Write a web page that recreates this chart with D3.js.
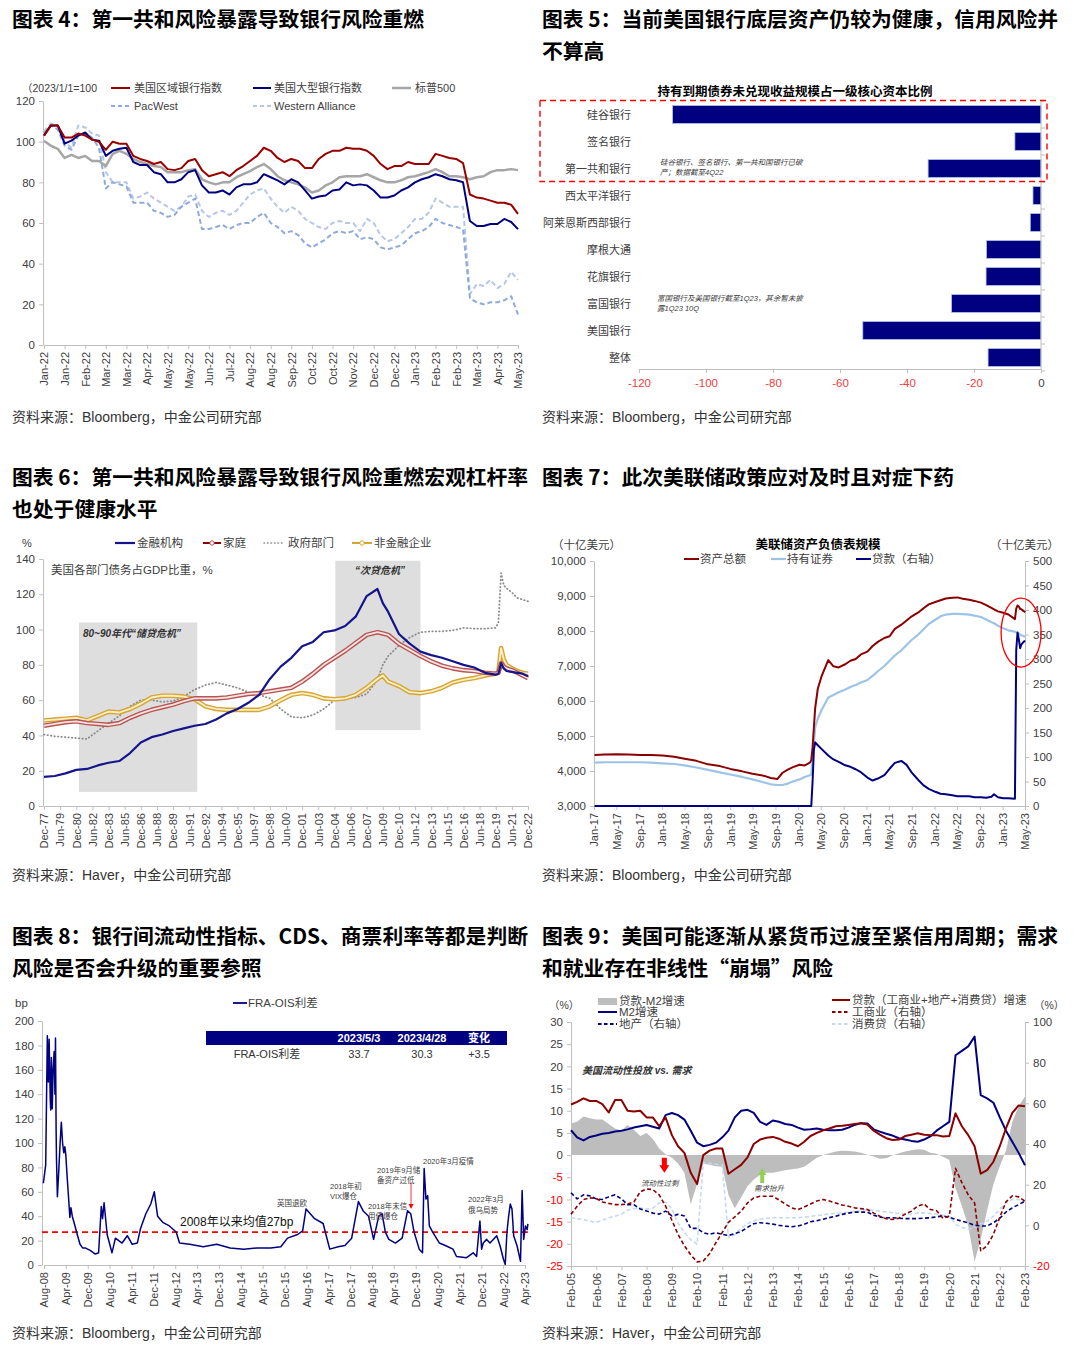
<!DOCTYPE html>
<html>
<head>
  <meta charset="utf-8">
  <title>美国银行风险图表</title>
  <script src="https://d3js.org/d3.v7.min.js"></script>
  <style>
    body { margin: 0; background: #ffffff; }
    #page { display: block; font-family: "Liberation Sans", Arial, "Noto Sans CJK SC", sans-serif; }
    .ttl { font-family: "Noto Sans CJK SC", sans-serif; font-weight: 700; font-size: 20.8px; fill: #000; }
    .src { font-size: 14px; fill: #333; }
  </style>
</head>
<body>
<svg id="page" width="1080" height="1355"></svg>
<script>

// ---------- Figure 4 data (weekly, from 2022-01-03) ----------
const fig4FirstDay = "2022-01-03";
const fig4Ticks = ["2022-01-03","2022-01-24","2022-02-14","2022-03-07","2022-03-28","2022-04-18","2022-05-09","2022-05-30",
  "2022-06-20","2022-07-11","2022-08-01","2022-08-22","2022-09-12","2022-10-03","2022-10-24","2022-11-14","2022-12-05",
  "2022-12-26","2023-01-16","2023-02-06","2023-02-27","2023-03-20","2023-04-10","2023-05-01"];
const fig4YTicks = [0, 20, 40, 60, 80, 100, 120];
const regionalBankIdx = [103,108,108,102,102, 104,103,101,100,96, 100,99,99,93,91.5, 90.5,89,90,86.5,86,
  87,90.5,91.5,86,83, 84,85,83,86,88, 90.5,93,97,95.5,92, 90,91.5,90.5,87,87, 91.5,94,95.5,95.5,97,
  96.5,96.5,95.5,93,89, 86.5,88,88,90,89, 89,89,94,93,92, 91.5,89.5,74,72.5,72, 71,70,70,69,64.5];
const largeBankIdx = [103,108,108,99,100.5, 103,104.5,101,100.5,93, 95.5,96.5,97,90,88.5, 88.5,85,84,80,80,
  81.5,85,86,78.5,75, 75,76,74,77.5,79, 79,80,84,82.5,81, 79,81.5,80,76,72, 73,73.5,76,76.5,80,
  78.5,79,78.5,76,72.5, 72.5,73.5,76,77.5,80, 81.5,82.5,84,83,81.5, 81,80,61,58.5,58.5, 59.5,59.5,62,60.5,57];
const sp500Idx = [100.5,98,96.5,92,93.5, 92,93,90.5,90.5,88, 94,95.5,94,91.5,90, 89,88,87.5,85,85,
  85,86,86.5,81.5,80, 79,80,80,82.5,84, 85.5,87.5,89,86.5,83, 81,80,79,77.5,75, 76,78.5,80,82.5,83,
  83,83,84,82.5,81, 80,80,81,82.5,83, 84,85,86.5,85,83, 83,82.5,81.5,82.5,83, 85,86,86,86.5,86];
const pacWestIdx = [104,108,106,98,96, 103,104,102,97,77, 80,79,78,70,70, 70,66,65,63,64,
  68,70,72,57,57, 58,59,57,59,60, 60,63,65,60,58, 55,56,54,50,48, 50,52,55,56,55,
  56,52,53,52,48, 47,48,49,52,55, 56,58,62,60,59, 58,57,23,21,20, 21,21,22,24,15];
const westernAllianceIdx = [105,109,108,100,97, 108,107,104,103,85, 80,80,80,72,73, 75,72,70,68,66,
  68,73,74,66,63, 65,66,64,66,70, 74,76,77,72,68, 65,68,66,62,60, 58,57,60,61,60,
  60,56,62,60,54, 51,52,55,58,62, 62,65,72,70,68, 68,68,25,30,29, 32,28,30,36,32];

// ---------- Figure 5 data ----------
const htmBanks = ["硅谷银行","签名银行","第一共和银行","西太平洋银行","阿莱恩斯西部银行","摩根大通","花旗银行","富国银行","美国银行","整体"];
const htmLossPct = [-110, -7.8, -33.7, -2.4, -3.2, -16.3, -16.4, -26.7, -53.2, -15.8];
const htmTicks = [-120, -100, -80, -60, -40, -20, 0];

// ---------- Figure 6 data (debt / GDP, %) ----------
const debtDates = ["1977-12","1978-12","1979-12","1980-12","1981-12","1982-12","1983-12","1984-12","1985-12","1986-12",
  "1987-12","1988-12","1989-12","1990-12","1991-12","1992-12","1993-12","1994-12","1995-12","1996-12",
  "1997-12","1998-12","1999-12","2000-12","2001-12","2002-12","2003-12","2004-12","2005-12","2006-12",
  "2007-12","2008-12","2009-06","2009-12","2010-12","2011-12","2012-12","2013-12","2014-12","2015-12",
  "2016-12","2017-12","2018-12","2019-12","2020-03","2020-06","2020-09","2020-12","2021-06","2021-12",
  "2022-06","2022-12"];
const financialDebt = [16.5,17,18.5,20.5,21,23,24.5,25.5,30,36,
  39,40.5,42.5,44,45.5,46.5,49,52.5,55,58.5,
  63,72,79,84,90.5,93,98.5,99.5,102,107.5,
  119,123,115,110,97.5,92,87.5,85.5,84,82,
  80,78.5,75.5,74.5,75,81,78,76.5,76,75.5,
  75,73.5];
const householdDebt = [45.5,46.5,47.5,48,47,46.5,46,47,50,52.5,
  54.5,56,57.5,59.5,61,61,61,61.5,62.5,63.5,
  64,65,66,67,70.5,75,80,84,88,92.5,
  97,98.5,97.8,97,92,88.5,85,82,79.5,78,
  77,76.5,75.5,75,75.5,81,79,78,77,75.5,
  74,72.5];
const corporateDebt = [48.5,49,49.5,50,48.5,51,53.5,53,55,58,
  61.5,62.5,62.5,62,60.5,56.5,55,54.5,54.5,54.5,
  54.5,56.5,60,63,64,63,61,60.5,61,63,
  67,72,74,70.5,68,64.5,64,65,67,70,
  71.5,72.5,74,75,76,89.5,83,80,78,76.5,
  75.5,75];
const governmentDebt = [40.5,39.5,39,38.5,38,42.5,47,51,56.5,60,
  60,59,59.5,62,66,68.5,70,68.5,67,64.5,
  63,61,55,50.5,50,51.5,55,60,61,61.5,
  63.5,71.5,80,85,91,95.5,98.5,99,99,99.5,
  101,100.5,100.5,101,104,132,125,123.5,121,118,
  117,116];
const debtTicks = ["1977-12","1979-06","1980-12","1982-06","1983-12","1985-06","1986-12","1988-06","1989-12","1991-06",
  "1992-12","1994-06","1995-12","1997-06","1998-12","2000-06","2001-12","2003-06","2004-12","2006-06",
  "2007-12","2009-06","2010-12","2012-06","2013-12","2015-06","2016-12","2018-06","2019-12","2021-06","2022-12"];
const debtYTicks = [0, 20, 40, 60, 80, 100, 120, 140];
const crisisBands = [
  { from: "1981-03", to: "1992-03", top: 104, bottom: 8, label: "80~90年代“储贷危机”" },
  { from: "2005-01", to: "2012-12", top: 139, bottom: 43, label: "“次贷危机”" }
];

// ---------- Figure 7 data (Fed balance sheet, $bn) ----------
const fedDates = ["2017-01-04","2017-03-01","2017-05-03","2017-07-05","2017-09-06","2017-11-01",
  "2018-01-03","2018-03-07","2018-05-02","2018-07-04","2018-09-05","2018-11-07",
  "2019-01-02","2019-03-06","2019-05-01","2019-07-03","2019-08-07","2019-09-11","2019-10-09","2019-11-06","2019-12-04",
  "2020-01-08","2020-02-05","2020-03-04","2020-03-11","2020-03-18","2020-03-25","2020-04-01","2020-04-15","2020-05-06",
  "2020-06-10","2020-07-08","2020-08-05","2020-09-09","2020-10-07","2020-11-04","2020-12-02",
  "2021-01-06","2021-02-03","2021-03-03","2021-04-07","2021-05-05","2021-06-02","2021-07-07","2021-08-04",
  "2021-09-01","2021-10-06","2021-11-03","2021-12-01",
  "2022-01-05","2022-02-02","2022-03-02","2022-04-06","2022-05-04","2022-06-01","2022-07-06","2022-08-03",
  "2022-09-07","2022-10-05","2022-11-02","2022-11-16","2022-12-07",
  "2023-01-04","2023-02-01","2023-03-08","2023-03-15","2023-03-22","2023-03-29","2023-04-05","2023-04-12",
  "2023-04-19","2023-04-26","2023-05-03"];
const fedTotalAssets = [4460,4470,4480,4470,4460,4460,
  4440,4410,4350,4290,4190,4140,
  4060,3990,3920,3860,3800,3770,3950,4040,4110,
  4180,4160,4240,4310,4670,5250,5800,6350,6720,
  7170,6990,6960,7050,7150,7200,7330,
  7410,7570,7690,7800,7850,8060,8180,8300,
  8420,8530,8650,8760,
  8830,8880,8930,8950,8960,8920,8890,8860,
  8810,8740,8660,8620,8560,
  8520,8470,8340,8640,8730,8700,8630,8620,
  8590,8560,8540];
const fedSecurities = [4240,4250,4250,4250,4250,4240,
  4220,4200,4160,4100,4030,3960,
  3900,3830,3760,3670,3620,3600,3600,3640,3700,
  3760,3830,3880,3900,4300,4800,5250,5500,5750,
  6100,6170,6250,6330,6400,6460,6530,
  6600,6720,6850,7000,7150,7300,7450,7600,
  7750,7900,8050,8200,
  8320,8420,8470,8490,8490,8480,8470,8440,
  8400,8330,8250,8220,8150,
  8080,8020,7980,7960,7940,7920,7900,7880,
  7860,7850,7840];
const fedLoans = [0,0,0,0,0,0,
  0,0,0,0,0,0,
  0,0,0,0,0,0,0,0,0,
  0,0,0,0,50,115,130,124,116,
  103,95,90,83,80,75,69,
  58,52,56,63,76,88,92,84,
  68,53,42,35,
  29,25,24,22,20,20,20,18,
  18,17,19,24,18,
  16,16,15,318,354,340,322,330,
  333,336,336];
const fedTicks = ["2017-01","2017-05","2017-09","2018-01","2018-05","2018-09","2019-01","2019-05","2019-09","2020-01",
  "2020-05","2020-09","2021-01","2021-05","2021-09","2022-01","2022-05","2022-09","2023-01","2023-05"];
const fedLeftTicks = [3000, 4000, 5000, 6000, 7000, 8000, 9000, 10000];
const fedRightTicks = [0, 50, 100, 150, 200, 250, 300, 350, 400, 450, 500];

// ---------- Figure 8 data (FRA-OIS, bp) ----------
const fraDates = ["2008-07-25","2008-08-20","2008-09-07","2008-09-18","2008-09-27","2008-10-10","2008-10-15","2008-10-22",
  "2008-11-01","2008-11-10","2008-11-22","2008-12-01","2008-12-07","2008-12-14","2008-12-18","2008-12-28",
  "2009-01-13","2009-01-28","2009-02-10","2009-02-24","2009-03-09","2009-03-21","2009-04-01","2009-04-16","2009-04-28",
  "2009-05-16","2009-05-28","2009-06-12","2009-07-12","2009-08-10","2009-09-06","2009-10-05","2009-11-03","2009-12-28",
  "2010-02-24","2010-04-01","2010-05-01","2010-05-15","2010-06-01","2010-07-05","2010-08-28","2010-10-05","2010-12-18",
  "2011-02-15","2011-04-10","2011-06-06","2011-07-12","2011-09-09","2011-11-03","2011-12-12",
  "2012-01-18","2012-03-15","2012-05-28","2012-08-12","2012-09-18",
  "2013-01-09","2013-06-09","2013-11-06","2014-04-04","2014-09-03","2015-02-01","2015-07-01","2015-10-21",
  "2016-01-04","2016-04-25","2016-06-20","2016-07-28","2016-11-01","2017-02-03","2017-03-10","2017-04-18",
  "2017-07-20","2017-10-04","2017-12-18","2018-03-03","2018-04-28","2018-06-24","2018-08-01","2018-08-19",
  "2018-10-15","2018-11-22","2018-12-28","2019-02-05","2019-04-19","2019-07-03","2019-09-01","2019-10-07",
  "2019-11-13","2020-01-09","2020-02-15","2020-03-04","2020-03-24","2020-04-12","2020-05-01","2020-06-07",
  "2020-08-21","2020-11-06","2021-01-19","2021-02-27","2021-06-19","2021-09-01","2021-10-09","2021-11-15",
  "2021-12-04","2021-12-22","2022-01-29","2022-03-07","2022-04-13","2022-05-21","2022-06-28","2022-08-04",
  "2022-08-24","2022-09-12","2022-10-01","2022-10-19","2022-11-07","2022-11-26","2023-01-03","2023-02-10",
  "2023-02-28","2023-03-17","2023-04-06","2023-04-25","2023-05-03"];
const fraOisSpread = [67,82,188,150,185,135,127,170,
  128,160,175,140,186,110,87,56,
  78,101,117,100,92,97,90,72,59,
  39,47,40,32,24,17,14,14,12,
  9,10,48,38,51,25,10,22,18,
  24,17,18,30,42,50,60,
  40,35,32,27,18,
  17,15,17,14,13,14,14,15,
  22,25,28,46,38,34,24,13,
  15,16,22,52,44,40,27,21,
  40,42,27,21,18,22,44.5,42,
  27,13,10,79,54,57,32,27,
  18,15.6,13,7,6,10,7,36,
  13,18,21,18,21,24,15.6,4.7,
  0.5,27,40,50,46,24,15.6,3,
  61,21,32,29,33.7];
const fraMean = 27;
const fraTicks = ["2008-08","2009-04","2009-12","2010-08","2011-04","2011-12","2012-08","2013-04","2013-12","2014-08",
  "2015-04","2015-12","2016-08","2017-04","2017-12","2018-08","2019-04","2019-12","2020-08","2021-04","2021-12","2022-08","2023-04"];
const fraYTicks = [0, 20, 40, 60, 80, 100, 120, 140, 160, 180, 200];
const fraTableHead = ["", "2023/5/3", "2023/4/28", "变化"];
const fraTableRow = ["FRA-OIS利差", "33.7", "30.3", "+3.5"];

// ---------- Figure 9 data (quarterly from 2005-02, %) ----------
const creditFirstMonth = "2005-02";
const loanMinusM2 = [7.2,7.5,8.7,8.3, 8,8,7,6, 5.5,6.8,5.7,4.3, 5,3.6,1.5,0.2, -0.6,-1.9,-4,-11,
  -6.5,-1.9,-2.2,-2.5, -2.6,-9,-12,-9.5, -7,-5.5,-4.5,-4, -4,-3.7,-3.4,-3.2, -3,-2.6,-1.6,-0.6,
  0,0.4,0.8,1, 0.9,0.8,0.5,0.1, -0.3,-0.8,-0.7,-0.1, 0.4,0.8,1.1,1.3, 1.2,0.5,0.3,-0.4,
  -1.1,-7.5,-11.5,-16, -24,-19,-12.5,-6.5, -2.5,1,7.5,11, 13.2];
const m2Growth = [5.6,4,3.3,4.1, 4.4,4.8,5,5.3, 5.5,5.8,6.2,6.5, 6.8,6.4,6,9, 9.5,9,8,5.5,
  2.8,2,2.3,2.8, 4,5.5,8.5,10, 10.2,9.5,7.5,6.8, 7.8,7.5,7,6.8, 6.2,5.7,5.8,6,
  5.7,5.6,5.6,5.7, 6.2,6.8,7.2,7.1, 5.8,5.3,4.8,4.4, 3.8,3.5,3.2,3, 3.5,4.2,5.5,6.5,
  7.5,22.5,23.5,24.5, 26.7,13.5,12.8,11.8, 8.5,5.5,3,0.5, -2.3];
const loanGrowth = [11.4,12,12.8,12.2, 12.2,11.5,9.6,12.4, 12.4,10,9.8,10, 8.5,8.5,6.5,8.5, 4.5,2,0.5,-4,
  -6.5,0,1,1.5, 1.5,-4.2,-3.2,-2.2, -0.5,2.5,3.5,3.9, 4.1,3.7,3,2.6, 2,3,4.3,5,
  5.6,6,6.5,6.6, 6.8,7,7.2,6.9, 5.5,4.6,3.8,3.4, 3.5,4.3,4.6,4.9, 4.6,4.5,4.5,4.2,
  4.3,9.4,6.5,4.5, 2,-4.2,-3.4,-1.5, 2,6,9.5,11.2, 11];
const realEstateLoans = [16,13,15,14.5, 13,12.7,14,15, 13,10.2,10.2,8, 7,6,5.5,7, 4.6,5.4,4.6,-1.5,
  -1.5,-3.6,-4.4,-3.6, -4.4,-5,-4,-3, -1,0.8,1.3,1, 0.6,0,-0.4,-0.7, -0.3,0.5,1.8,2.3,
  3,3.8,4.5,5.4, 6,6.5,6.5,6.5, 5,4,3.7,3.7, 3.5,3.3,3.3,3.3, 3.5,3.7,4.2,4.6,
  4,3,2,1.3, 0,-0.3,-0.3,1.3, 3.5,6.5,8.6,10.2, 11.9];
const ciLoans = [5.4,9.4,12.7,13.5, 13.2,11.5,10.8,10.2, 10.2,10.5,11.5,16.5, 17.9,17.6,15,9.5, 2.5,-4.5,-10,-14.5,
  -18,-17.5,-14,-8.5, -3.5,1.5,4.2,7, 11,13.5,14.3,14.3, 14.3,12.5,10.5,8.6, 7.8,9,10.5,12,
  12.7,12,11,10, 9.4,8.6,8.2,7.8, 6,4.5,3.2,2.9, 3.5,5.5,7,9.5, 10.5,7.8,7.2,3.5,
  4.5,28,21,15, 11,-12.5,-10,-4.4, 4,11.5,14.5,14, 11.9];
const consumerLoans = [3.7,3.2,2.9,2, 1.5,2.5,3.7,4.5, 5.5,7.5,8.2,8.6, 8,8.5,11,11.5, 8,1,-3.5,-7,
  -9.3,31,30.5,30, 29.5,-6,-4.5,-1.5, 0.8,2.2,3,3.4, 3.7,3.7,3.7,3.7, 3.8,4,4.4,4.8,
  5.2,5.6,5.9,6.2, 6.5,6.9,7.3,7.8, 7.3,7,6.6,6.2, 5.8,5.4,5.6,6, 6.2,5.8,5.4,5,
  4.6,0.5,-1,-2, -0.8,0.8,2.1,4.5, 8,11,12.7,12.7, 11.9];
const creditTicks = ["2005-02","2006-02","2007-02","2008-02","2009-02","2010-02","2011-02","2012-02","2013-02","2014-02",
  "2015-02","2016-02","2017-02","2018-02","2019-02","2020-02","2021-02","2022-02","2023-02"];
const creditLeftTicks = [-25, -20, -15, -10, -5, 0, 5, 10, 15, 20, 25, 30];
const creditRightTicks = [-20, 0, 20, 40, 60, 80, 100];

// ---------- shared helpers ----------
const svg = d3.select("#page");
const parseDay = d3.timeParse("%Y-%m-%d");
const parseMonth = d3.timeParse("%Y-%m");
const pd = s => (s.length > 7 ? parseDay(s) : parseMonth(s));
const monthYear = d3.timeFormat("%b-%y");
const plain = d => String(d);   // keep an ASCII hyphen for negatives, like Excel
const GRID = "#bfbfbf", INK = "#404040", NAVY = "#000080", DARKRED = "#8b0000", NEG = "#ff0000";

function heading(x, y, lines) {
  lines.forEach((t, i) => svg.append("text").attr("class", "ttl").attr("x", x).attr("y", y + i * 32).text(t));
}
function source(x, y, t) {
  svg.append("text").attr("class", "src").attr("x", x).attr("y", y).text(t);
}
function note(x, y, t, size, o = {}) {
  return svg.append("text").attr("x", x).attr("y", y)
    .attr("text-anchor", o.anchor || "start")
    .style("font-size", size + "px")
    .style("font-style", o.italic ? "italic" : null)
    .style("font-weight", o.weight || null)
    .attr("fill", o.fill || INK)
    .text(t);
}
function tidy(g, size) {
  g.attr("font-family", null).attr("font-size", null);
  g.select(".domain").attr("stroke", GRID);
  g.selectAll(".tick line").attr("stroke", GRID);
  g.selectAll(".tick text").attr("fill", INK).style("font-size", size + "px");
  return g;
}
function dateAxis(scale, y, ticks, size) {
  const g = svg.append("g").attr("transform", `translate(0,${y})`)
    .call(d3.axisBottom(scale).tickValues(ticks.map(pd)).tickFormat(monthYear).tickSize(4).tickSizeOuter(0));
  tidy(g, size);
  g.selectAll(".tick text").attr("transform", "rotate(-90)").attr("text-anchor", "end")
    .attr("x", -7).attr("y", 0).attr("dy", "0.35em");
  return g;
}
function valueAxis(scale, x, ticks, size, side, fmt) {
  const axis = (side === "right" ? d3.axisRight(scale) : d3.axisLeft(scale))
    .tickValues(ticks).tickSize(4).tickPadding(4).tickSizeOuter(0).tickFormat(fmt || plain);
  return tidy(svg.append("g").attr("transform", `translate(${x},0)`).call(axis), size);
}
function legendLine(x, y, w, color, o = {}) {
  svg.append("line").attr("x1", x).attr("x2", x + w).attr("y1", y).attr("y2", y)
    .attr("stroke", color).attr("stroke-width", o.width || 2)
    .attr("stroke-dasharray", o.dash || null).attr("stroke-linecap", o.cap || null);
}
function drawLine(dates, values, x, y, color, o = {}) {
  const line = d3.line().x((d, i) => x(dates[i])).y(d => y(d));
  return svg.append("path").datum(values).attr("fill", "none")
    .attr("stroke", color).attr("stroke-width", o.width || 2)
    .attr("stroke-dasharray", o.dash || null).attr("stroke-linejoin", "round")
    .attr("stroke-linecap", o.cap || null)
    .attr("d", line);
}

// ================= Figure 4 =================
heading(12, 27, ["图表 4：第一共和风险暴露导致银行风险重燃"]);
const f4Dates = regionalBankIdx.map((d, i) => d3.timeDay.offset(pd(fig4FirstDay), 7 * i));
const f4x = d3.scaleTime().domain([pd("2022-01-03"), pd("2023-05-01")]).range([44, 518]);
const f4y = d3.scaleLinear().domain([0, 120]).range([345, 101]);
valueAxis(f4y, 43, fig4YTicks, 11.5);
dateAxis(f4x, 345, fig4Ticks, 11);

drawLine(f4Dates, westernAllianceIdx, f4x, f4y, "#b4c7e7", { width: 2, dash: "5,3" });
drawLine(f4Dates, pacWestIdx, f4x, f4y, "#8eaadb", { width: 2, dash: "5,3" });
drawLine(f4Dates, sp500Idx, f4x, f4y, "#a6a6a6", { width: 2.5 });
drawLine(f4Dates, largeBankIdx, f4x, f4y, NAVY, { width: 2 });
drawLine(f4Dates, regionalBankIdx, f4x, f4y, "#990000", { width: 2 });

note(22, 92, "（2023/1/1=100", 10.5);
legendLine(111, 88, 19, "#990000");
note(134, 92, "美国区域银行指数", 11);
legendLine(253, 88, 18, NAVY);
note(274, 92, "美国大型银行指数", 11);
legendLine(392, 88, 19, "#a6a6a6", { width: 2.5 });
note(415, 92, "标普500", 11);
legendLine(111, 106, 19, "#8eaadb", { dash: "4,3" });
note(134, 110, "PacWest", 11);
legendLine(253, 106, 18, "#b4c7e7", { dash: "4,3" });
note(274, 110, "Western Alliance", 11);
source(12, 422, "资料来源：Bloomberg，中金公司研究部");

// ================= Figure 5 =================
heading(542, 27, ["图表 5：当前美国银行底层资产仍较为健康，信用风险并", "不算高"]);
const f5x = d3.scaleLinear().domain([-120, 0]).range([639, 1041]);
const f5y = d3.scaleBand().domain(htmBanks).range([101, 371]).paddingInner(0.33).paddingOuter(0.165);
note(795, 96, "持有到期债券未兑现收益规模占一级核心资本比例", 12.5, { anchor: "middle", weight: 700, fill: "#000" });

svg.append("g").selectAll("rect").data(htmBanks).join("rect")
  .attr("x", (d, i) => f5x(htmLossPct[i]))
  .attr("y", d => f5y(d))
  .attr("width", (d, i) => f5x(0) - f5x(htmLossPct[i]))
  .attr("height", f5y.bandwidth())
  .attr("fill", NAVY).attr("stroke", "#b4c7e7").attr("stroke-width", 0.8);

svg.append("g").selectAll("text").data(htmBanks).join("text")
  .attr("x", 631).attr("y", d => f5y(d) + f5y.bandwidth() / 2 + 4)
  .attr("text-anchor", "end").style("font-size", "11px").attr("fill", INK).text(d => d);

// value axis with red negative labels
const f5axis = svg.append("g").attr("transform", "translate(0,369)")
  .call(d3.axisBottom(f5x).tickValues(htmTicks).tickSize(4).tickPadding(6).tickSizeOuter(0).tickFormat(plain));
tidy(f5axis, 11.5);
f5axis.selectAll(".tick text").attr("fill", d => (d < 0 ? "#f03c3c" : INK));
// category axis line at zero, with ticks between bars
svg.append("line").attr("x1", f5x(0)).attr("x2", f5x(0)).attr("y1", 101).attr("y2", 369).attr("stroke", GRID);
svg.append("g").selectAll("line").data(d3.range(htmBanks.length + 1)).join("line")
  .attr("x1", f5x(0)).attr("x2", f5x(0) + 4)
  .attr("y1", i => 101 + i * f5y.step()).attr("y2", i => 101 + i * f5y.step())
  .attr("stroke", GRID);

// failed-bank highlight box
const boxTop = f5y(htmBanks[0]) - 5;
const boxBottom = f5y(htmBanks[2]) + f5y.bandwidth() + 4;
svg.append("rect").attr("x", 540).attr("y", boxTop).attr("width", 507).attr("height", boxBottom - boxTop)
  .attr("fill", "none").attr("stroke", "#ff0000").attr("stroke-width", 1.4).attr("stroke-dasharray", "6,4");
note(660, 165, "硅谷银行、签名银行、第一共和国银行已破", 7.5, { italic: true });
note(660, 175, "产；数据截至4Q22", 7.5, { italic: true });
note(657, 301, "富国银行及美国银行截至1Q23，其余暂未披", 7.5, { italic: true });
note(657, 311, "露1Q23 10Q", 7.5, { italic: true });
source(542, 422, "资料来源：Bloomberg，中金公司研究部");

// ================= Figure 6 =================
heading(12, 485, ["图表 6：第一共和风险暴露导致银行风险重燃宏观杠杆率", "也处于健康水平"]);
const f6x = d3.scaleTime().domain([pd("1977-12"), pd("2022-12")]).range([44, 528]);
const f6y = d3.scaleLinear().domain([0, 140]).range([806, 559]);
const f6Dates = debtDates.map(pd);

svg.append("g").selectAll("rect").data(crisisBands).join("rect")
  .attr("x", d => f6x(pd(d.from))).attr("y", d => f6y(d.top))
  .attr("width", d => f6x(pd(d.to)) - f6x(pd(d.from)))
  .attr("height", d => f6y(d.bottom) - f6y(d.top))
  .attr("fill", "#dedede");
note(f6x(pd(crisisBands[0].from)) + 4, 637, crisisBands[0].label, 10, { italic: true, weight: 700, fill: "#333" });
note(380, 574, crisisBands[1].label, 10, { italic: true, weight: 700, fill: "#333", anchor: "middle" });

valueAxis(f6y, 43, debtYTicks, 11.5);
dateAxis(f6x, 806, debtTicks, 11);

drawLine(f6Dates, governmentDebt, f6x, f6y, "#8c8c8c", { width: 1.8, dash: "0.5,3", cap: "round" });
drawLine(f6Dates, corporateDebt, f6x, f6y, "#d6a531", { width: 4.6 });
drawLine(f6Dates, corporateDebt, f6x, f6y, "#fbefc9", { width: 1.8 });
drawLine(f6Dates, householdDebt, f6x, f6y, "#b85450", { width: 4.6 });
drawLine(f6Dates, householdDebt, f6x, f6y, "#f8e4e3", { width: 1.8 });
drawLine(f6Dates, financialDebt, f6x, f6y, "#14148c", { width: 2.2 });

note(22, 547, "%", 11);
legendLine(115, 543, 20, "#14148c", { width: 2.2 });
note(137, 547, "金融机构", 11.5);
legendLine(203, 543, 18, "#8b0000", { width: 2 });
svg.append("circle").attr("cx", 212).attr("cy", 543).attr("r", 2.2).attr("fill", "#fff").attr("stroke", "#b85450");
note(223, 547, "家庭", 11.5);
legendLine(264, 543, 21, "#8c8c8c", { width: 1.6, dash: "0.5,3", cap: "round" });
note(288, 547, "政府部门", 11.5);
legendLine(352, 543, 20, "#d6a531", { width: 2 });
svg.append("circle").attr("cx", 362).attr("cy", 543).attr("r", 2.2).attr("fill", "#fff").attr("stroke", "#d6a531");
note(374, 547, "非金融企业", 11.5);
note(51, 574, "美国各部门债务占GDP比重，%", 11.5);
source(12, 880, "资料来源：Haver，中金公司研究部");

// ================= Figure 7 =================
heading(542, 485, ["图表 7：此次美联储政策应对及时且对症下药"]);
const f7x = d3.scaleTime().domain([pd("2017-01-01"), pd("2023-05-01")]).range([594, 1025]);
const f7yL = d3.scaleLinear().domain([3000, 10000]).range([806, 561]);
const f7yR = d3.scaleLinear().domain([0, 500]).range([806, 561]);
const f7Dates = fedDates.map(pd);

valueAxis(f7yL, 594, fedLeftTicks, 11.5, "left", d3.format(","));
valueAxis(f7yR, 1025, fedRightTicks, 11.5, "right");
dateAxis(f7x, 806, fedTicks, 11);

drawLine(f7Dates, fedSecurities, f7x, f7yL, "#9dc3e6", { width: 2.2 });
drawLine(f7Dates, fedTotalAssets, f7x, f7yL, "#8b0000", { width: 2 });
drawLine(f7Dates, fedLoans, f7x, f7yR, NAVY, { width: 2 });

svg.append("ellipse").attr("cx", f7x(pd("2023-04-10"))).attr("cy", f7yR(354)).attr("rx", 20).attr("ry", 34.5)
  .attr("fill", "none").attr("stroke", "#ff0000").attr("stroke-width", 1.3);

note(552, 549, "（十亿美元）", 11.5);
note(990, 549, "（十亿美元）", 11.5);
note(818, 549, "美联储资产负债表规模", 12.5, { anchor: "middle", weight: 700, fill: "#000" });
legendLine(684, 559, 15, "#8b0000");
note(700, 563, "资产总额", 11.5);
legendLine(771, 559, 15, "#9dc3e6", { width: 2.2 });
note(787, 563, "持有证券", 11.5);
legendLine(856, 559, 15, NAVY);
note(872, 563, "贷款（右轴）", 11.5);
source(542, 880, "资料来源：Bloomberg，中金公司研究部");

// ================= Figure 8 =================
heading(12, 944, ["图表 8：银行间流动性指标、CDS、商票利率等都是判断", "风险是否会升级的重要参照"]);
const f8x = d3.scaleTime().domain([pd("2008-08-01"), pd("2023-04-01")]).range([44, 525]);
const f8y = d3.scaleLinear().domain([0, 200]).range([1265, 1021]);
valueAxis(f8y, 42, fraYTicks, 11.5);
dateAxis(f8x, 1265, fraTicks, 11);

svg.append("line").attr("x1", 42).attr("x2", f8x(pd("2023-05-03")))
  .attr("y1", f8y(fraMean)).attr("y2", f8y(fraMean))
  .attr("stroke", "#ff0000").attr("stroke-width", 1.8).attr("stroke-dasharray", "6,4");
drawLine(fraDates.map(pd), fraOisSpread, f8x, f8y, NAVY, { width: 1.5 });

note(15, 1007, "bp", 11.5);
legendLine(233, 1003, 14, NAVY, { width: 1.8 });
note(248, 1007, "FRA-OIS利差", 11.5);

// summary table
const colX = [267, 359, 422, 479];
svg.append("rect").attr("x", 206).attr("y", 1031).attr("width", 301).attr("height", 14).attr("fill", NAVY);
svg.append("g").selectAll("text").data(fraTableHead).join("text")
  .attr("x", (d, i) => colX[i]).attr("y", 1042).attr("text-anchor", "middle")
  .style("font-size", "11px").style("font-weight", 700).attr("fill", "#fff").text(d => d);
svg.append("g").selectAll("text").data(fraTableRow).join("text")
  .attr("x", (d, i) => colX[i]).attr("y", 1058).attr("text-anchor", "middle")
  .style("font-size", "11px").attr("fill", "#333").text(d => d);

note(180, 1226, "2008年以来均值27bp", 12, { fill: "#111" });
note(277, 1206, "英国退欧", 7.5);
note(330, 1189, "2018年初", 7.5);
note(330, 1199, "VIX爆仓", 7.5);
note(368, 1209, "2018年末信", 7.5);
note(368, 1219, "用债爆仓", 7.5);
note(377, 1173, "2019年9月储", 7.5);
note(377, 1183, "备资产过低", 7.5);
note(423, 1164, "2020年3月疫情", 7.5);
note(468, 1202, "2022年3月", 7.5);
note(468, 1213, "俄乌局势", 7.5);
const arrowX = f8x(pd("2019-10-10"));
svg.append("line").attr("x1", arrowX).attr("x2", arrowX).attr("y1", f8y(67)).attr("y2", f8y(49))
  .attr("stroke", "#ff0000").attr("stroke-width", 0.8);
svg.append("path").attr("d", `M${arrowX - 2.5},${f8y(50)} L${arrowX + 2.5},${f8y(50)} L${arrowX},${f8y(46)} Z`)
  .attr("fill", "#ff0000");
source(12, 1338, "资料来源：Bloomberg，中金公司研究部");

// ================= Figure 9 =================
heading(542, 944, ["图表 9：美国可能逐渐从紧货币过渡至紧信用周期；需求", "和就业存在非线性“崩塌”风险"]);
const f9Dates = loanMinusM2.map((d, i) => d3.timeMonth.offset(pd(creditFirstMonth), 3 * i));
const f9x = d3.scaleTime().domain([pd("2005-02"), pd("2023-02")]).range([571, 1025]);
const f9yL = d3.scaleLinear().domain([-25, 30]).range([1266, 1022]);
const f9yR = d3.scaleLinear().domain([-20, 100]).range([1266, 1022]);

svg.append("path").datum(loanMinusM2)
  .attr("fill", "#bdbdbd")
  .attr("d", d3.area().x((d, i) => f9x(f9Dates[i])).y0(f9yL(0)).y1(d => f9yL(d)));

const f9left = valueAxis(f9yL, 571, creditLeftTicks, 11.5, "left");
f9left.selectAll(".tick text").attr("fill", d => (d < 0 ? NEG : INK));
const f9right = valueAxis(f9yR, 1025, creditRightTicks, 11.5, "right");
f9right.selectAll(".tick text").attr("fill", d => (d < 0 ? NEG : INK));
dateAxis(f9x, 1266, creditTicks, 11);

drawLine(f9Dates, consumerLoans, f9x, f9yR, "#c5d9f1", { width: 1.6, dash: "4,2.5" });
drawLine(f9Dates, realEstateLoans, f9x, f9yR, NAVY, { width: 1.6, dash: "4,2.5" });
drawLine(f9Dates, ciLoans, f9x, f9yR, "#8b0000", { width: 1.6, dash: "4,2.5" });
drawLine(f9Dates, m2Growth, f9x, f9yL, NAVY, { width: 2 });
drawLine(f9Dates, loanGrowth, f9x, f9yL, "#8b0000", { width: 2 });

// legend
note(549, 1009, "（%）", 10.5);
note(1034, 1009, "（%）", 10.5);
svg.append("rect").attr("x", 598).attr("y", 998).attr("width", 19).attr("height", 7).attr("fill", "#bdbdbd");
note(619, 1005, "贷款-M2增速", 11.5);
legendLine(598, 1012, 19, NAVY);
note(619, 1016, "M2增速", 11.5);
legendLine(598, 1024, 19, NAVY, { dash: "3.5,2.5" });
note(619, 1028, "地产（右轴）", 11.5);
legendLine(832, 1000, 18, "#8b0000");
note(852, 1004, "贷款（工商业+地产+消费贷）增速", 11.5);
legendLine(832, 1012, 18, "#8b0000", { dash: "3.5,2.5" });
note(852, 1016, "工商业（右轴）", 11.5);
legendLine(832, 1024, 18, "#c5d9f1", { dash: "3.5,2.5" });
note(852, 1028, "消费贷（右轴）", 11.5);

note(582, 1074, "美国流动性投放 vs. 需求", 10, { italic: true, weight: 700, fill: "#333" });
// arrows: red = liquidity excess, green = demand rising
const redX = f9x(pd("2008-10-15"));
svg.append("path")
  .attr("d", `M${redX - 2.5},${f9yL(-0.6)} L${redX + 2.5},${f9yL(-0.6)} L${redX + 2.5},${f9yL(-2.3)} L${redX + 5},${f9yL(-2.3)} L${redX},${f9yL(-4)} L${redX - 5},${f9yL(-2.3)} L${redX - 2.5},${f9yL(-2.3)} Z`)
  .attr("fill", "#ff0000");
note(641, 1186, "流动性过剩", 7.5, { italic: true });
const greenX = f9x(pd("2012-09-01"));
svg.append("path")
  .attr("d", `M${greenX - 2},${f9yL(-6.3)} L${greenX + 2},${f9yL(-6.3)} L${greenX + 2},${f9yL(-4.5)} L${greenX + 4},${f9yL(-4.5)} L${greenX},${f9yL(-2.9)} L${greenX - 4},${f9yL(-4.5)} L${greenX - 2},${f9yL(-4.5)} Z`)
  .attr("fill", "#92d050");
note(754, 1191, "需求抬升", 7.5, { italic: true });
source(542, 1338, "资料来源：Haver，中金公司研究部");

</script>
</body>
</html>
